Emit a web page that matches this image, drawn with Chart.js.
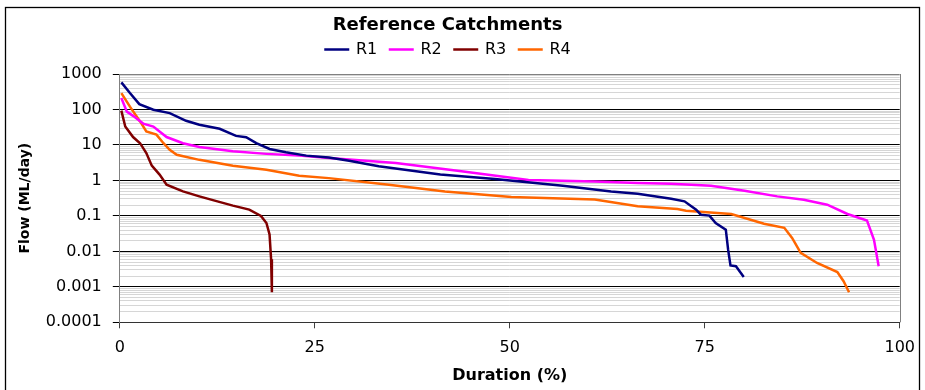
<!DOCTYPE html>
<html><head><meta charset="utf-8">
<script src="https://cdn.jsdelivr.net/npm/chart.js@4.4.1/dist/chart.umd.min.js"></script>
<style>html,body{margin:0;padding:0;background:#fff;}</style>
</head><body>
<canvas id="c" width="925" height="390"></canvas>
<script>
const chartTitle = 'Reference Catchments';
const xAxisTitle = 'Duration (%)';
const yAxisTitle = 'Flow (ML/day)';
const seriesNames = ['R1', 'R2', 'R3', 'R4'];
const seriesColors = ['#000080', '#FF00FF', '#800000', '#FF6600'];

const r1Duration = [0.2, 1.3, 2.5, 4.3, 6.4, 8.5, 10.2, 12.8, 14.9, 16.2, 17.5, 19.2, 21.3, 23.9, 26.8, 29.4, 33.2, 41.1, 48.1, 56.8, 63.0, 66.4, 70.7, 72.4, 73.9, 74.5, 75.6, 76.4, 77.7, 78.0, 78.3, 79.0, 80.0];
const r1Flow     = [580, 290, 141, 98, 79, 48, 37, 28.5, 18, 16.6, 11.2, 7.7, 6.2, 5.0, 4.4, 3.6, 2.5, 1.46, 1.1, 0.71, 0.49, 0.42, 0.305, 0.257, 0.15, 0.108, 0.102, 0.063, 0.041, 0.011, 0.004, 0.0038, 0.0019];

const r2Duration = [0.2, 0.9, 1.7, 3.0, 4.3, 6.0, 8.1, 10.2, 14.5, 18.8, 23.0, 26.8, 29.4, 35.4, 43.8, 52.4, 60.9, 66.4, 70.7, 75.8, 80.1, 84.3, 87.7, 90.7, 93.3, 95.8, 96.7, 97.3];
const r2Flow     = [210, 87, 66, 40, 33, 16.7, 11.2, 8.7, 6.6, 5.6, 5.0, 4.3, 3.9, 3.1, 1.8, 1.02, 0.93, 0.84, 0.8, 0.71, 0.51, 0.355, 0.286, 0.207, 0.113, 0.074, 0.0213, 0.0038];

const r3Duration = [0.2, 0.7, 1.7, 2.6, 3.4, 4.1, 5.1, 6.0, 8.1, 10.2, 12.4, 14.5, 16.6, 18.1, 18.8, 19.2, 19.4, 19.5];
const r3Flow     = [93, 33, 16.7, 11.2, 5.9, 2.6, 1.46, 0.76, 0.49, 0.355, 0.26, 0.195, 0.15, 0.10, 0.063, 0.030, 0.006, 0.0007];

const r4Duration = [0.2, 1.3, 2.6, 3.4, 4.7, 5.6, 6.4, 7.3, 10.2, 14.5, 18.8, 23.0, 26.8, 34.5, 41.7, 50.2, 60.9, 66.4, 71.5, 72.6, 78.4, 82.6, 85.2, 86.2, 87.3, 89.4, 92.0, 92.8, 93.5];
const r4Flow     = [290, 120, 46, 24, 19.5, 11.2, 7.3, 5.3, 3.8, 2.6, 2.0, 1.36, 1.16, 0.76, 0.49, 0.34, 0.29, 0.186, 0.156, 0.14, 0.113, 0.06, 0.046, 0.024, 0.0091, 0.0047, 0.0026, 0.00144, 0.0007];

const xTickLabels = ['0', '25', '50', '75', '100'];
const yTickLabels = ['0.0001', '0.001', '0.01', '0.1', '1', '10', '100', '1000'];

const durations = [r1Duration, r2Duration, r3Duration, r4Duration];
const flows = [r1Flow, r2Flow, r3Flow, r4Flow];

function decadeIndex(v) {
  const e = Math.log10(v);
  const r = Math.round(e);
  return Math.abs(e - r) < 1e-6 ? r : null;
}

const FONT = 'DejaVu Sans';

const framePlugin = {
  id: 'excelFrame',
  beforeDraw(chart) {
    const ctx = chart.ctx;
    ctx.save();
    ctx.fillStyle = '#fff';
    ctx.fillRect(0, 0, chart.width, chart.height);
    ctx.strokeStyle = '#000';
    ctx.lineWidth = 1.3;
    ctx.strokeRect(5.5, 7.5, 914, 400);
    ctx.restore();
  },
  beforeDatasetsDraw(chart) {
    const {ctx, chartArea: a} = chart;
    ctx.save();
    ctx.strokeStyle = '#808080';
    ctx.lineWidth = 1;
    ctx.beginPath();
    ctx.moveTo(Math.round(a.right) + 0.5, a.top);
    ctx.lineTo(Math.round(a.right) + 0.5, a.bottom);
    ctx.stroke();
    ctx.restore();
  },
  afterDraw(chart) {
    const ctx = chart.ctx;
    const cx = 447.5;
    ctx.save();
    ctx.fillStyle = '#000';
    ctx.textAlign = 'center';
    ctx.textBaseline = 'middle';
    ctx.font = 'bold 18px "' + FONT + '"';
    ctx.fillText(chartTitle, cx, 25.5);
    // legend
    ctx.font = '16px "' + FONT + '"';
    const lineLen = 25, gap = 6.7, spacing = 11.5;
    const items = chart.data.datasets.map(ds => ({label: ds.label, color: ds.borderColor, w: ctx.measureText(ds.label).width}));
    let total = 0;
    items.forEach((it, i) => { total += lineLen + gap + it.w + (i < items.length - 1 ? spacing : 0); });
    let x = cx - total / 2;
    const ly = 49.5;
    ctx.textAlign = 'left';
    items.forEach(it => {
      ctx.strokeStyle = it.color;
      ctx.lineWidth = 2.5;
      ctx.beginPath();
      ctx.moveTo(x, ly);
      ctx.lineTo(x + lineLen, ly);
      ctx.stroke();
      ctx.fillStyle = '#000';
      ctx.fillText(it.label, x + lineLen + gap, ly + 0.5);
      x += lineLen + gap + it.w + spacing;
    });
    ctx.restore();
  }
};

new Chart(document.getElementById('c'), {
  type: 'line',
  data: {
    datasets: seriesNames.map((name, i) => ({
      label: name,
      data: durations[i].map((d, j) => ({x: d, y: flows[i][j]})),
      borderColor: seriesColors[i],
      backgroundColor: seriesColors[i],
      borderWidth: 2.5,
      pointRadius: 0,
      fill: false,
      tension: 0
    }))
  },
  options: {
    responsive: false,
    animation: false,
    devicePixelRatio: 1,
    layout: {padding: {top: 74, left: 5, right: 22, bottom: 0}},
    plugins: {
      legend: {display: false},
      title: {display: false},
      tooltip: {enabled: false}
    },
    scales: {
      x: {
        type: 'linear',
        min: 0,
        max: 100,
        afterFit(s) { s.height = 67.7; },
        ticks: {
          stepSize: 25,
          maxRotation: 0,
          padding: 10,
          color: '#000',
          font: {family: FONT, size: 16},
          callback: (v, i) => xTickLabels[i]
        },
        grid: {drawOnChartArea: false, drawTicks: true, tickLength: 6, tickColor: '#404040'},
        border: {color: '#333', width: 1},
        title: {
          display: true,
          text: xAxisTitle,
          color: '#000',
          font: {family: FONT, size: 16, weight: 'bold'},
          padding: {top: 0, bottom: 4.7}
        }
      },
      y: {
        type: 'logarithmic',
        min: 0.0001,
        max: 1000,
        afterFit(s) { s.width = 114.8; },
        afterBuildTicks(s) {
          s.ticks = s.ticks.filter(t => {
            const p = Math.pow(10, Math.floor(Math.log10(t.value) + 1e-9));
            const m = t.value / p;
            return Math.abs(m - Math.round(m)) < 1e-6;
          });
        },
        ticks: {
          autoSkip: false,
          padding: 11,
          color: '#000',
          font: {family: FONT, size: 16},
          callback: (v) => {
            const d = decadeIndex(v);
            return d === null ? '' : yTickLabels[d + 4];
          }
        },
        grid: {
          lineWidth: 1,
          tickLength: 7,
          color: (c) => {
            const d = decadeIndex(c.tick.value);
            if (d === null) return '#d6d6d6';
            return d === 3 ? '#808080' : '#000';
          },
          tickColor: (c) => decadeIndex(c.tick.value) === null ? 'rgba(0,0,0,0)' : '#000'
        },
        border: {color: '#808080', width: 1},
        title: {
          display: true,
          text: yAxisTitle,
          color: '#000',
          font: {family: FONT, size: 14, weight: 'bold'},
          padding: {top: 11.6, bottom: 0}
        }
      }
    }
  },
  plugins: [framePlugin]
});
</script>
</body></html>
